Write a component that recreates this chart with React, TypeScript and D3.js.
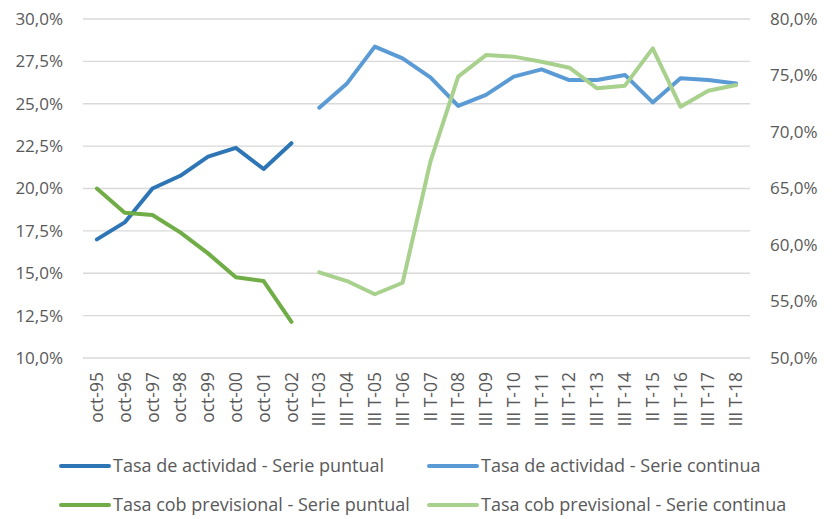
import React, { useEffect, useRef } from 'react';
import * as d3 from 'd3';

const categories = [
  'oct-95', 'oct-96', 'oct-97', 'oct-98', 'oct-99', 'oct-00', 'oct-01', 'oct-02',
  'III T-03', 'III T-04', 'III T-05', 'III T-06', 'II T-07', 'III T-08', 'III T-09', 'III T-10',
  'III T-11', 'III T-12', 'III T-13', 'III T-14', 'II T-15', 'III T-16', 'III T-17', 'III T-18',
];

// left axis (%)
const actividadPuntual = [17.0, 18.0, 20.0, 20.75, 21.88, 22.4, 21.15, 22.67];
const actividadContinua = [24.77, 26.2, 28.37, 27.68, 26.56, 24.87, 25.52, 26.6, 27.03, 26.4, 26.4, 26.7, 25.08, 26.5, 26.4, 26.2];

// right axis (%)
const coberturaPuntual = [65.0, 62.86, 62.65, 61.12, 59.26, 57.14, 56.81, 53.2];
const coberturaContinua = [57.58, 56.81, 55.64, 56.66, 67.37, 74.9, 76.81, 76.67, 76.22, 75.69, 73.87, 74.1, 77.4, 72.24, 73.65, 74.16];

const leftTicks = [10, 12.5, 15, 17.5, 20, 22.5, 25, 27.5, 30];
const rightTicks = [50, 55, 60, 65, 70, 75, 80];

const WIDTH = 835;
const HEIGHT = 519;
const FONT = '"Open Sans", "Noto Sans", sans-serif';
const TEXT = '#595959';

type Pt = { cat: string; v: number | null };

const App: React.FC = () => {
  const svgRef = useRef<SVGSVGElement | null>(null);

  useEffect(() => {
    if (!svgRef.current) return;
    const svg = d3.select(svgRef.current);
    svg.selectAll('*').remove();

    const x = d3.scaleBand<string>().domain(categories).range([83, 750]);
    const yL = d3.scaleLinear().domain([10, 30]).range([358, 19]);
    const yR = d3.scaleLinear().domain([50, 80]).range([358, 19]);
    const fmt = (v: number) => v.toFixed(1).replace('.', ',') + '%';

    // gridlines
    svg.append('g')
      .selectAll('line')
      .data(leftTicks)
      .join('line')
      .attr('x1', 83).attr('x2', 750)
      .attr('y1', d => yL(d)).attr('y2', d => yL(d))
      .attr('stroke', '#d9d9d9')
      .attr('stroke-width', 1.3);

    // left axis labels
    svg.append('g')
      .attr('font-family', FONT)
      .attr('font-size', 17)
      .attr('fill', TEXT)
      .attr('text-anchor', 'end')
      .selectAll('text')
      .data(leftTicks)
      .join('text')
      .attr('x', 63)
      .attr('y', d => yL(d))
      .attr('dy', '0.35em')
      .text(d => fmt(d));

    // right axis labels
    svg.append('g')
      .attr('font-family', FONT)
      .attr('font-size', 17)
      .attr('fill', TEXT)
      .attr('text-anchor', 'start')
      .selectAll('text')
      .data(rightTicks)
      .join('text')
      .attr('x', 770)
      .attr('y', d => yR(d))
      .attr('dy', '0.35em')
      .text(d => fmt(d));

    // category labels, rotated
    svg.append('g')
      .attr('font-family', FONT)
      .attr('font-size', 17.5)
      .attr('fill', TEXT)
      .attr('text-anchor', 'end')
      .selectAll('text')
      .data(categories)
      .join('text')
      .attr('transform', d => `translate(${(x(d) ?? 0) + x.bandwidth() / 2},372) rotate(-90)`)
      .attr('dy', '0.35em')
      .text(d => d);

    const pad = (vals: number[], before: number): Pt[] =>
      categories.map((c, i) => ({ cat: c, v: i >= before && i < before + vals.length ? vals[i - before] : null }));

    const series = [
      { name: 'Tasa de actividad - Serie puntual', color: '#2e75b6', pts: pad(actividadPuntual, 0), y: yL },
      { name: 'Tasa de actividad - Serie continua', color: '#5b9bd5', pts: pad(actividadContinua, 8), y: yL },
      { name: 'Tasa cob previsional - Serie puntual', color: '#70ad47', pts: pad(coberturaPuntual, 0), y: yR },
      { name: 'Tasa cob previsional - Serie continua', color: '#a9d18e', pts: pad(coberturaContinua, 8), y: yR },
    ];

    series.forEach(s => {
      const line = d3.line<Pt>()
        .defined(d => d.v !== null)
        .x(d => (x(d.cat) ?? 0) + x.bandwidth() / 2)
        .y(d => s.y(d.v as number));
      svg.append('path')
        .datum(s.pts)
        .attr('fill', 'none')
        .attr('stroke', s.color)
        .attr('stroke-width', 4)
        .attr('stroke-linejoin', 'round')
        .attr('stroke-linecap', 'round')
        .attr('d', line);
    });

    // legend
    const legendPos = [
      { x: 61, y: 466 },
      { x: 429, y: 466 },
      { x: 61, y: 505 },
      { x: 429, y: 505 },
    ];
    const lg = svg.append('g')
      .selectAll('g')
      .data(series)
      .join('g')
      .attr('transform', (d, i) => `translate(${legendPos[i].x},${legendPos[i].y})`);
    lg.append('line')
      .attr('x1', 0).attr('x2', 48)
      .attr('stroke', d => d.color)
      .attr('stroke-width', 4)
      .attr('stroke-linecap', 'round');
    lg.append('text')
      .attr('x', 52)
      .attr('dy', '0.35em')
      .attr('font-family', FONT)
      .attr('font-size', 18)
      .attr('fill', TEXT)
      .text(d => d.name);
  }, []);

  return (
    <div style={{ position: 'absolute', left: 0, top: 0 }}>
      <svg ref={svgRef} width={WIDTH} height={HEIGHT} style={{ display: 'block', background: '#fff' }} />
    </div>
  );
};

export default App;
